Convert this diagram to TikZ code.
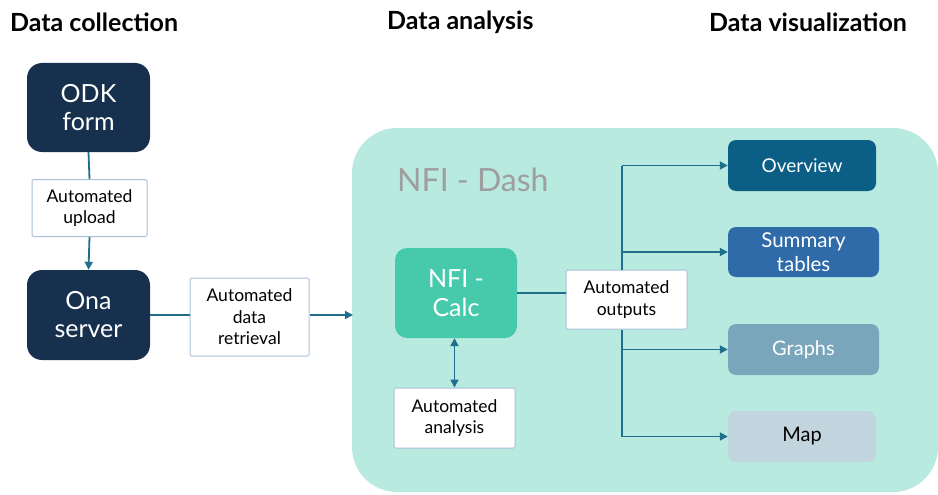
\documentclass[tikz,border=0pt]{standalone}
\usepackage{fontspec}
\setmainfont{Lato}
\usetikzlibrary{arrows.meta,positioning,calc}
\definecolor{navy}{HTML}{16304E}
\definecolor{teal}{HTML}{B9EADF}
\definecolor{calc}{HTML}{47C9AC}
\definecolor{linec}{HTML}{1F6E8C}
\definecolor{wbord}{HTML}{A9C1DA}
\definecolor{ov}{HTML}{0B5F86}
\definecolor{sumc}{HTML}{2F6BA8}
\definecolor{grc}{HTML}{79A6BB}
\definecolor{mapc}{HTML}{C2D4DD}
\definecolor{dashc}{HTML}{9E9E9E}
\tikzset{
  hdr/.style={font=\fontsize{25}{28}\selectfont\bfseries, anchor=west, inner sep=0pt},
  navybox/.style={fill=navy, rounded corners=15pt, text=white, align=center, font=\fontsize{25}{28}\selectfont, inner sep=0pt},
  wbox/.style={fill=white, draw=wbord, line width=1pt, rounded corners=1.5pt, align=center, font=\fontsize{17.5}{21.5}\selectfont, inner sep=0pt},
  outbox/.style={rounded corners=8pt, align=center, font=\fontsize{20}{23}\selectfont, inner sep=0pt, text=white},
  conn/.style={draw=linec, line width=1.8pt},
  arr/.style={conn, -{Triangle[length=8pt,width=8pt]}},
}
\begin{document}
\begin{tikzpicture}[x=1pt,y=-1pt]
\useasboundingbox (0,0) rectangle (938,495);
% headers
\node[hdr] (h1) at (10,22) {Data collection};
\node[hdr] (h2) at (387,22) {Data analysis};
\node[hdr] (h3) at (709,22) {Data visualization};
% container
\node[fill=teal, rounded corners=45pt, minimum width=586pt, minimum height=364pt, inner sep=0pt] (dash) at (645,310) {};
\node[anchor=west, text=dashc, font=\fontsize{32}{36}\selectfont, inner sep=0pt] (dashlbl) at (397,180) {NFI - Dash};
% left column
\node[navybox, minimum width=123pt, minimum height=89pt] (odk) at (88.5,107.5) {ODK\\form};
\node[wbox, minimum width=115pt, minimum height=57pt] (upl) at (89.5,208) {Automated\\upload};
\node[navybox, minimum width=123pt, minimum height=90pt] (ona) at (88.5,315) {Ona\\server};
\node[wbox, minimum width=119pt, minimum height=78pt] (ret) at (249.5,317) {Automated\\data\\retrieval};
\coordinate (dashin) at (353,315);
% analysis
\node[fill=calc, rounded corners=12pt, text=white, align=center, font=\fontsize{25}{29}\selectfont, inner sep=0pt, minimum width=122pt, minimum height=90pt] (calcn) at (456,293) {NFI -\\Calc};
\node[wbox, minimum width=121pt, minimum height=60pt] (ana) at (454.5,418) {Automated\\analysis};
\node[wbox, minimum width=121pt, minimum height=59pt] (outp) at (626.5,299.5) {Automated\\outputs};
% outputs
\node[outbox, fill=ov, minimum width=148pt, minimum height=51pt, font=\fontsize{19}{22}\selectfont] (ovw) at (802,165.5) {Overview};
\node[outbox, fill=sumc, minimum width=151pt, minimum height=50pt, font=\fontsize{20.5}{23.5}\selectfont] (sum) at (803.5,252) {Summary\\tables};
\node[outbox, fill=grc, minimum width=151pt, minimum height=51pt] (gr) at (803.5,349.5) {Graphs};
\node[outbox, fill=mapc, text=black, minimum width=148pt, minimum height=51pt] (map) at (802,436.5) {Map};
% connectors
\draw[conn] (odk.south) -- (upl.north);
\draw[arr] (upl.south) -- (ona.north);
\draw[conn] (ona.east) -- (ret.west |- ona.east);
\draw[arr] (ret.east |- dashin) -- (dashin);
\draw[conn, {Triangle[length=8pt,width=8pt]}-{Triangle[length=8pt,width=8pt]}] (calcn.south -| ana.north) -- (ana.north);
\draw[conn] (calcn.east) -- (outp.west |- calcn.east);
\coordinate (vx) at (622,300);
\draw[conn] (vx |- ovw.west) -- (outp.north -| vx);
\draw[conn] (outp.south -| vx) -- (vx |- map.west);
\draw[arr] (vx |- ovw.west) -- (ovw.west);
\draw[arr] (vx |- sum.west) -- (sum.west);
\draw[arr] (vx |- gr.west) -- (gr.west);
\draw[arr] (vx |- map.west) -- (map.west);
\end{tikzpicture}
\end{document}
